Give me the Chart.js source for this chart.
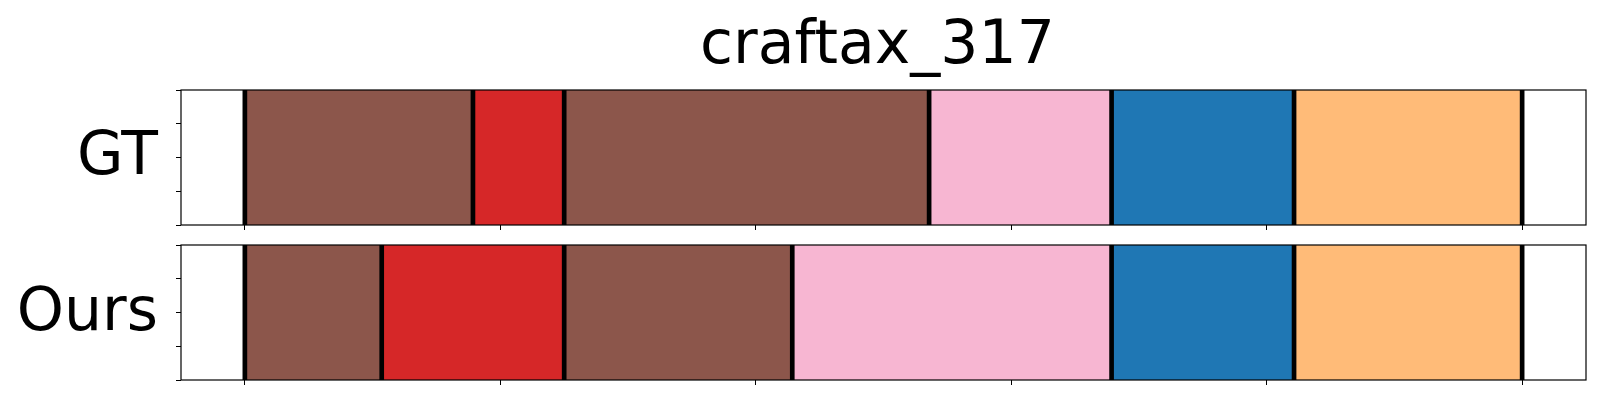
<!DOCTYPE html>
<html>
<head>
<meta charset="utf-8">
<title>craftax_317</title>
<script src="https://cdn.jsdelivr.net/npm/chart.js@4.4.1/dist/chart.umd.min.js"></script>
<style>
    html, body { margin: 0; padding: 0; background: #fff; }
    #wrap { position: relative; width: 1600px; height: 400px; overflow: hidden; font-family: 'DejaVu Sans', sans-serif; color: #000; }
    canvas { position: absolute; left: 0; }
    .txt { position: absolute; font-size: 60px; line-height: 60px; white-space: nowrap; }
    #title { left: 0; width: 1755px; text-align: center; top: 12px; }
    .rowlab { left: 0; width: 158px; text-align: right; }
</style>
</head>
<body>
<div id="wrap">
    <div id="title" class="txt">craftax_317</div>
    <div id="lab-0" class="txt rowlab" style="top:123px"></div>
    <div id="lab-1" class="txt rowlab" style="top:279px"></div>
    <canvas id="chart-0" width="1600" height="235" style="top:0"></canvas>
    <canvas id="chart-1" width="1600" height="165" style="top:235px"></canvas>
</div>
<script>
// Dados (unidade = passo/frame)
const rowLabels = ['GT', 'Ours'];
const gtLengths = [5, 2, 8, 4, 4, 5];
const gtClasses = [10, 6, 10, 13, 0, 3];
const oursLengths = [3, 4, 5, 7, 4, 5];
const oursClasses = [10, 6, 10, 13, 0, 3];
const xTickValues = [0, 5.6, 11.2, 16.8, 22.4, 28];
const yTickValues = [0, 0.25, 0.5, 0.75, 1];

// Paleta tab20 (índice da classe -> cor)
const tab20 = [
    '#1f77b4', '#aec7e8', '#ff7f0e', '#ffbb78', '#2ca02c',
    '#98df8a', '#d62728', '#ff9896', '#9467bd', '#c5b0d5',
    '#8c564b', '#c49c94', '#e377c2', '#f7b6d2', '#7f7f7f',
    '#c7c7c7', '#bcbd22', '#dbdb8d', '#17becf', '#9edae5'
];

// Meia largura da linha preta de fronteira (em unidades do eixo x, ~2px)
const BOUNDARY_HALF = 0.044;

Chart.defaults.font.family = "'DejaVu Sans', sans-serif";
Chart.defaults.animation = false;

// Moldura da área do gráfico (spines do topo/direita também)
const framePlugin = {
    id: 'frame',
    afterDraw(chart) {
        const a = chart.chartArea;
        const ctx = chart.ctx;
        ctx.save();
        ctx.strokeStyle = '#000';
        ctx.lineWidth = 1.2;
        ctx.strokeRect(a.left, a.top, a.right - a.left, a.bottom - a.top);
        ctx.restore();
    }
};

function buildRow(canvasId, label, lengths, classes, padding) {
    const total = lengths.reduce((s, v) => s + v, 0);
    const margin = total * 0.05;

    // Início de cada segmento (soma acumulada) e fronteiras
    const starts = [];
    lengths.reduce((acc, len) => { starts.push(acc); return acc + len; }, 0);
    const boundaries = starts.concat([total]);

    const common = {
        grouped: false,
        categoryPercentage: 1,
        barPercentage: 1,
        borderWidth: 0,
        xAxisID: 'x',
        yAxisID: 'y'
    };

    const segSets = lengths.map((len, i) => Object.assign({
        label: label + ' seg ' + i,
        data: [[starts[i], starts[i] + len]],
        backgroundColor: tab20[classes[i]],
        order: 2
    }, common));

    const lineSets = boundaries.map((b, i) => Object.assign({
        label: label + ' limite ' + i,
        data: [[b - BOUNDARY_HALF, b + BOUNDARY_HALF]],
        backgroundColor: '#000',
        order: 1
    }, common));

    return new Chart(document.getElementById(canvasId), {
        type: 'bar',
        data: { labels: [label], datasets: segSets.concat(lineSets) },
        options: {
            indexAxis: 'y',
            responsive: false,
            layout: { padding: padding },
            plugins: {
                legend: { display: false },
                tooltip: { enabled: false }
            },
            scales: {
                x: {
                    type: 'linear',
                    position: 'bottom',
                    min: -margin,
                    max: total + margin,
                    afterBuildTicks: s => { s.ticks = xTickValues.map(v => ({ value: v })); },
                    afterFit: s => { s.height = 5; },
                    ticks: { display: false },
                    grid: { drawOnChartArea: false, drawTicks: true, tickLength: 5, color: '#000', lineWidth: 1 },
                    border: { display: false }
                },
                y: {
                    type: 'category',
                    display: false,
                    offset: true
                },
                yTicks: {
                    type: 'linear',
                    position: 'left',
                    min: 0,
                    max: 1,
                    offset: false,
                    ticks: { display: false },
                    afterBuildTicks: s => { s.ticks = yTickValues.map(v => ({ value: v })); },
                    afterFit: s => { s.width = 5; },
                    grid: { offset: false, drawOnChartArea: false, drawTicks: true, tickLength: 5, color: '#000', lineWidth: 1 },
                    border: { display: false }
                }
            }
        },
        plugins: [framePlugin]
    });
}

rowLabels.forEach((name, i) => {
    document.getElementById('lab-' + i).textContent = name;
});

buildRow('chart-0', rowLabels[0], gtLengths, gtClasses, { left: 176, right: 14, top: 90, bottom: 5 });
buildRow('chart-1', rowLabels[1], oursLengths, oursClasses, { left: 176, right: 14, top: 10, bottom: 15 });
</script>
</body>
</html>
